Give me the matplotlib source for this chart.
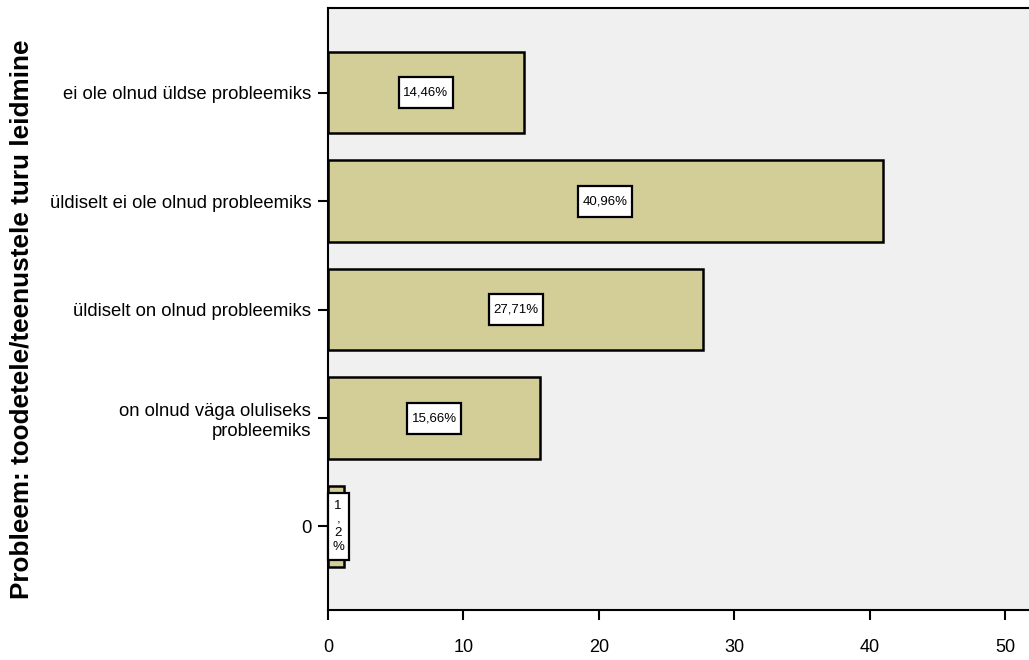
import matplotlib
matplotlib.use("Agg")
import matplotlib.pyplot as plt
from matplotlib.path import Path

categories = ["ei ole olnud üldse probleemiks",
              "üldiselt ei ole olnud probleemiks",
              "üldiselt on olnud probleemiks",
              "on olnud väga oluliseks\nprobleemiks",
              "0"]
values = [14.46, 40.96, 27.71, 15.66, 1.2]
labels = ["14,46%", "40,96%", "27,71%", "15,66%", "1\n,\n2\n%"]
xticks = [0, 10, 20, 30, 40, 50]
ylabel = "Probleem: toodetele/teenustele turu leidmine"

plt.rcParams['font.family'] = ['Liberation Sans', 'DejaVu Sans']


def make_box(px, py):
    def box(x0, y0, width, height, mutation_size):
        x0 -= px; x1 = x0 + width + 2 * px
        y0 -= py; y1 = y0 + height + 2 * py
        return Path([(x0, y0), (x1, y0), (x1, y1), (x0, y1), (x0, y0)], closed=True)
    return box


fig = plt.figure(figsize=(10.29, 6.6), dpi=100)
ax = fig.add_axes([328/1029, 50/660, 1 - 328/1029 + 0.01, 602/660])
ax.set_facecolor("#f0f0f0")

ypos = list(range(len(categories)))
ax.barh(ypos, values, height=0.75, color="#d3cd98", edgecolor="black", linewidth=1.8, zorder=2)
for y, v, lab in zip(ypos, values, labels):
    big = v > 5
    ax.text(v/2 if big else 0.75, y, lab, ha="center", va="center", fontsize=9.5,
            zorder=3, linespacing=1.2,
            bbox=dict(boxstyle=make_box(4.5, 9.5) if big else make_box(4.5, 6.5),
                      facecolor="white", edgecolor="black", linewidth=1.6))

ax.set_xlim(0, 52.5)
ax.set_ylim(4.77, -0.78)
ax.set_yticks(ypos)
ax.set_yticklabels(categories, fontsize=13.3)
ax.set_xticks(xticks)
ax.set_xticklabels([str(t) for t in xticks], fontsize=13)
ax.tick_params(axis="both", direction="out", length=7, width=1.5, color="black")
ax.tick_params(axis="x", pad=14)
ax.tick_params(axis="y", pad=5)
for s in ["left", "bottom", "top"]:
    ax.spines[s].set_linewidth(1.5)
ax.spines["right"].set_visible(False)
fig.text(22/1029, 1 - 319/660, ylabel, rotation=90, ha="center", va="center",
         fontsize=18.8, fontweight="bold")

fig.savefig("out.png", dpi=100)
